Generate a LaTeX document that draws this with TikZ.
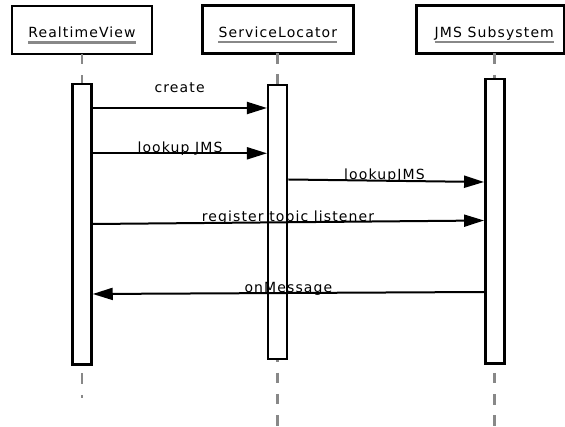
\documentclass[tikz,border=0pt]{standalone}
\usepackage{fontspec}
\usetikzlibrary{arrows.meta}
\newfontfamily\diafont{DejaVu Sans}[LetterSpace=8]
\definecolor{lifegray}{HTML}{888888}
\definecolor{inkgray}{HTML}{000000}
\tikzset{
  headbox/.style={draw=black, line width=2.8pt, fill=white, outer sep=0pt, inner sep=0pt},
  headtext/.style={anchor=base, inner sep=0pt, text=inkgray, font=\diafont\fontsize{14}{17}\selectfont},
  headline/.style={draw=lifegray, line width=2.2pt},
  lifeline/.style={draw=lifegray, line width=2.5pt, dash pattern=on 10.5pt off 10.8pt},
  actbox/.style={draw=black, line width=2.5pt, fill=white, minimum width=19pt, inner sep=0pt},
  msg/.style={draw=black, line width=2pt, -{Triangle[length=20pt,width=12pt]}},
  msglabel/.style={anchor=base, inner sep=0pt, text=inkgray, font=\diafont\fontsize{14}{17}\selectfont},
}
\begin{document}
\begin{tikzpicture}[x=1pt, y=-1pt]
\useasboundingbox (0,0) rectangle (565,427);

% participant heads
\node[headbox, minimum width=140pt, minimum height=48pt] (rvhead) at (82,30) {};
\node[headbox, minimum width=151pt, minimum height=48pt] (slhead) at (277.8,29.2) {};
\node[headbox, minimum width=147.5pt, minimum height=48pt] (jmshead) at (490.3,29.3) {};

\node[headtext] (rvname) at (82,37.6) {RealtimeView};
\node[headtext] (slname) at (277.8,37.4) {ServiceLocator};
\node[headtext] (jmsname) at (494.3,37.4) {JMS Subsystem};
\draw[headline] ([yshift=-5pt]rvname.base west) -- ([yshift=-5pt]rvname.base east);
\draw[headline] ([yshift=-5pt]slname.base west) -- ([yshift=-5pt]slname.base east);
\draw[headline] ([yshift=-5pt]jmsname.base west) -- ([yshift=-5pt]jmsname.base east);

% lifelines
\coordinate (rvend) at (82,398);
\coordinate (slend) at (277.7,427);
\coordinate (jmsend) at (494.6,427);
\draw[lifeline] (rvhead.south) -- (rvend);
\draw[lifeline] (slhead.south -| slend) -- (slend);
\draw[lifeline] (jmshead.south -| jmsend) -- (jmsend);

% activation bars
\node[actbox, minimum height=280.3pt] (rvact) at (82,224.2) {};
\node[actbox, minimum height=274pt] (slact) at (277.7,222) {};
\node[actbox, minimum height=284.5pt] (jmsact) at (494.8,221.2) {};

% messages
\draw[msg] (rvact.east |- 0,108) -- (slact.west |- 0,108);
\draw[msg] (rvact.east |- 0,153.3) -- (slact.west |- 0,153.3);
\draw[msg] (slact.east |- 0,179.5) -- (jmsact.west |- 0,182);
\draw[msg] (rvact.east |- 0,224) -- (jmsact.west |- 0,220.5);
\draw[msg] (jmsact.west |- 0,292) -- (rvact.east |- 0,294);

\node[msglabel] (lcreate) at (179.6,93) {create};
\node[msglabel] (llookup) at (180,153) {lookup JMS};
\node[msglabel] (llookupjms) at (384.5,179.5) {lookupJMS};
\node[msglabel] (lregister) at (288,222) {register topic listener};
\node[msglabel] (lonmsg) at (288.4,293) {onMessage};
\end{tikzpicture}
\end{document}
